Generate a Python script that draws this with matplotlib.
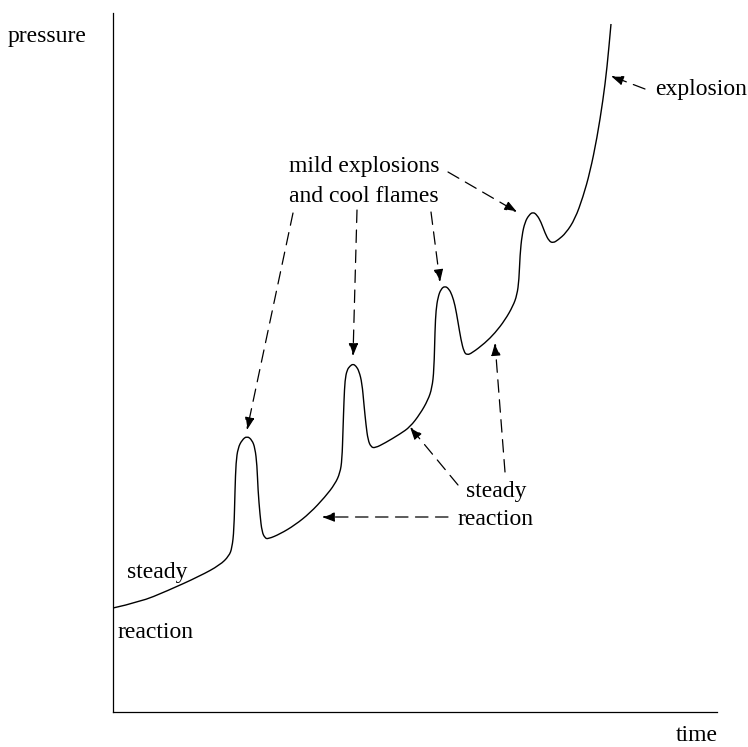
import matplotlib
matplotlib.use('Agg')
from matplotlib import pyplot as plt
from matplotlib.path import Path
from matplotlib.patches import PathPatch

plt.rcParams['font.family'] = ['Liberation Serif', 'DejaVu Serif']

# 压力-时间曲线的读数（任意单位）
time = [0, 27, 54, 87, 107, 116, 119, 121, 122, 123, 125, 129, 134, 139, 142, 144,
        145, 147, 149, 152, 155, 167, 182, 197, 212, 222, 227, 229, 230, 231, 232,
        234, 237, 240, 243, 246, 249, 251, 253, 255, 258, 262, 272, 287, 297, 307,
        315, 319, 321, 322, 323, 325, 328, 332, 336, 339, 342, 345, 348, 351, 354,
        359, 372, 382, 392, 400, 404, 406, 407, 409, 412, 416, 420, 424, 428, 432,
        436, 440, 445, 453, 462, 470, 477, 484, 490, 494, 498]
pressure = [104, 110, 121, 136, 147, 156, 164, 182, 222, 250, 264, 272, 276, 272,
            264, 247, 222, 197, 180, 174, 173, 178, 187, 199, 215, 228, 239, 252,
            282, 312, 332, 342, 346, 348, 346, 341, 329, 307, 287, 272, 265, 264,
            269, 278, 285, 298, 312, 324, 342, 382, 402, 415, 423, 426, 423, 417,
            407, 390, 372, 360, 357, 359, 369, 379, 392, 406, 417, 432, 457, 477,
            490, 497, 500, 497, 490, 479, 471, 469, 472, 479, 493, 515, 540, 574,
            612, 644, 688]

# 箭头：(起点, 终点)
mild_arrows = [((180, 499), (134, 282)),
               ((244, 502), (240, 356)),
               ((318, 500), (327, 430)),
               ((335, 540), (404, 500))]
steady_arrows = [((345, 227), (297, 285)),
                 ((392, 240), (382, 369)),
                 ((335, 195), (209, 195))]
explosion_arrow = ((532, 623), (498, 636))

W, H = 748, 747
fig = plt.figure(figsize=(W / 100, H / 100), dpi=100)
ax = fig.add_axes([113 / W, 35 / H, 604 / W, 699 / H])
ax.set_xlim(0, 604)
ax.set_ylim(0, 699)
ax.spines['top'].set_visible(False)
ax.spines['right'].set_visible(False)
for s in ['left', 'bottom']:
    ax.spines[s].set_linewidth(0.9)
ax.set_xticks([])
ax.set_yticks([])

# 用二次贝塞尔把读数点连成平滑曲线
pts = list(zip(time, pressure))
verts = [pts[0]]
codes = [Path.MOVETO]
for i in range(1, len(pts) - 1):
    mid = ((pts[i][0] + pts[i + 1][0]) / 2, (pts[i][1] + pts[i + 1][1]) / 2)
    verts += [pts[i], mid]
    codes += [Path.CURVE3, Path.CURVE3]
verts.append(pts[-1])
codes.append(Path.LINETO)
ax.add_patch(PathPatch(Path(verts, codes), fill=False, edgecolor='black',
                       lw=1.0, joinstyle='round'))

arrowprops = dict(arrowstyle='-|>,head_length=0.75,head_width=0.28',
                  linestyle=(0, (10, 6)), lw=0.9, color='black',
                  shrinkA=0, shrinkB=0)
for tail, head in mild_arrows + steady_arrows + [explosion_arrow]:
    ax.annotate('', xy=head, xytext=tail, arrowprops=arrowprops)


def label(px, py, s, ha='left'):
    fig.text(px / W, 1 - py / H, s, ha=ha, va='baseline', fontsize=17)


label(8, 42, 'pressure')
label(718, 741, 'time', ha='right')
label(655, 95, 'explosion')
label(364, 172, 'mild explosions', ha='center')
label(364, 202, 'and cool flames', ha='center')
label(496, 497, 'steady', ha='center')
label(496, 525, 'reaction', ha='center')
label(127, 578, 'steady')
label(118, 638, 'reaction')

fig.savefig('out.png', dpi=100)
